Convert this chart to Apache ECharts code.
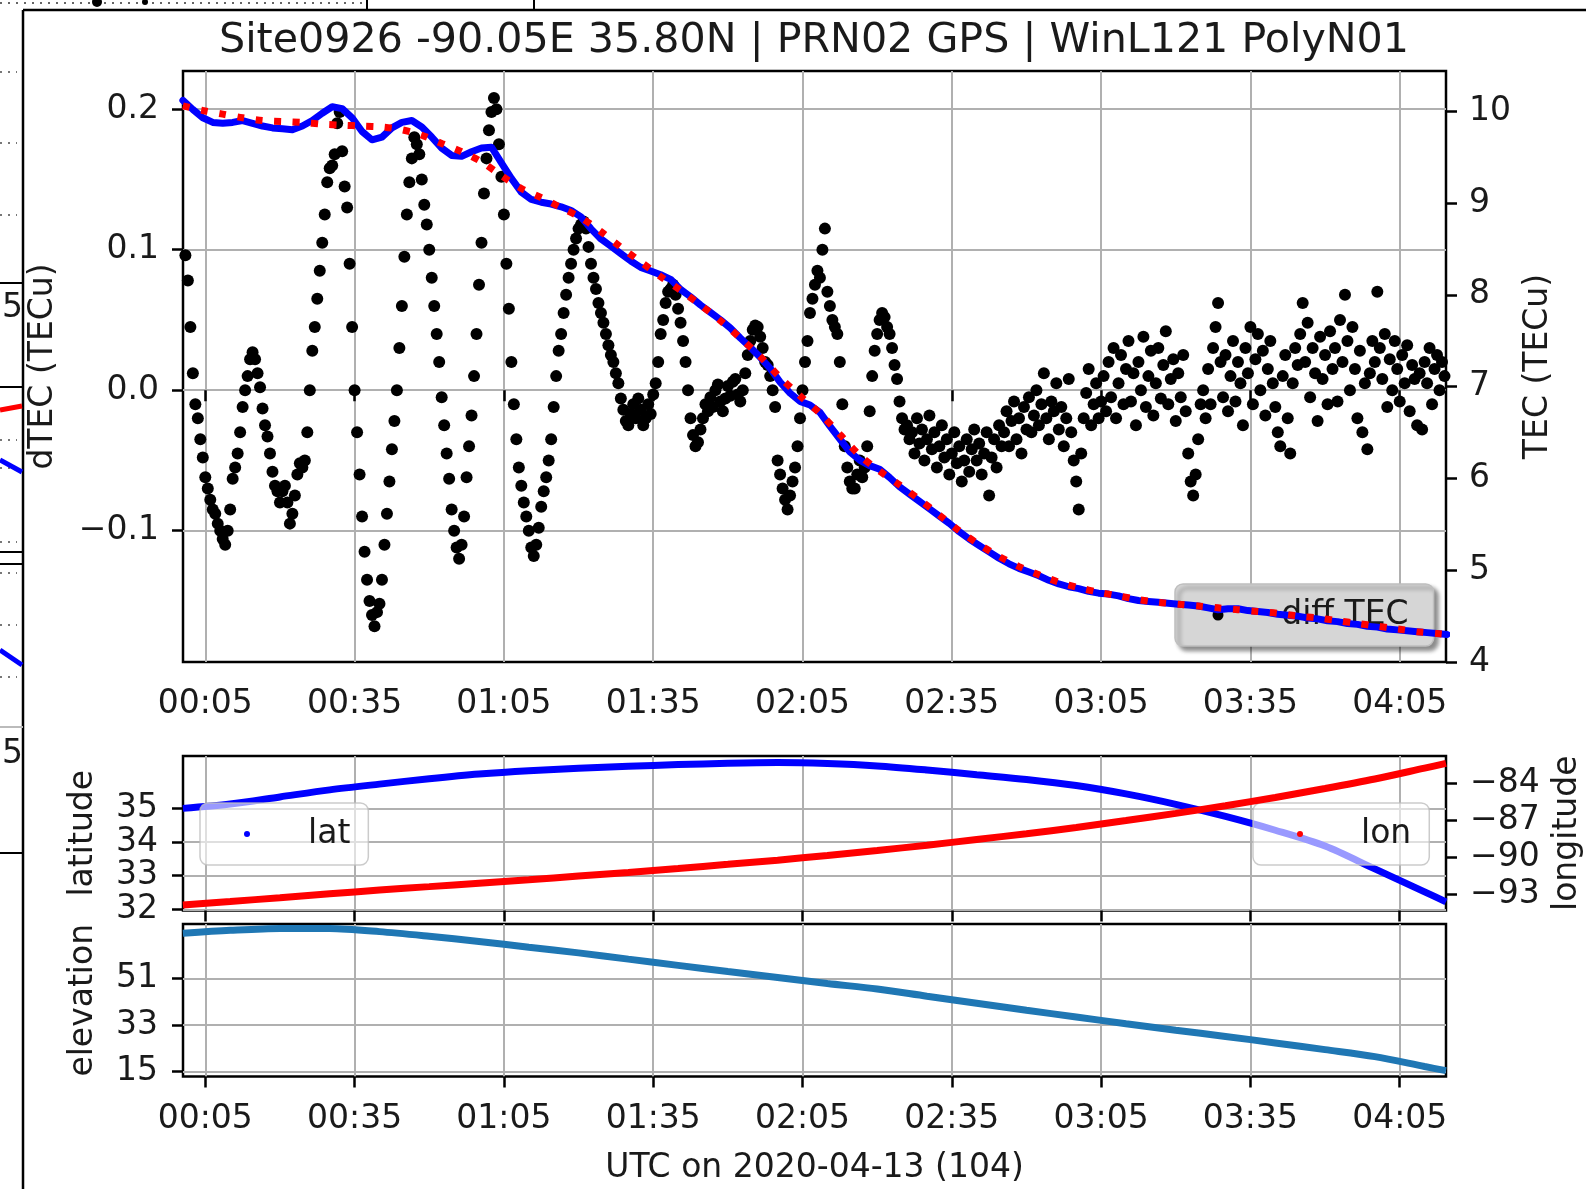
<!DOCTYPE html>
<html><head><meta charset="utf-8">
<script src="https://cdn.jsdelivr.net/npm/echarts@6/dist/echarts.min.js"></script>
<style>html,body{margin:0;padding:0;background:#fff;}#c{width:1586px;height:1189px;}</style>
</head><body><div id="c"></div>
<script>
// ---------------- DATA ----------------
const titleText = 'Site0926 -90.05E 35.80N | PRN02 GPS | WinL121 PolyN01';
const xTickMinutes = [5, 35, 65, 95, 125, 155, 185, 215, 245];
const dTecTicks = [-0.1, 0, 0.1, 0.2];
const tecTicks = [4, 5, 6, 7, 8, 9, 10];
const latTicks = [32, 33, 34, 35];
const lonTicks = [-93, -90, -87, -84];
const elevTicks = [15, 33, 51];

// dTEC, 30-s samples starting at minute 1.0
const dTecStart = 1.0, dTecStep = 0.5;
const dTecValues = [
 0.096, 0.078, 0.045, 0.012, -0.01, -0.02, -0.035, -0.048, -0.062, -0.07,
 -0.078, -0.085, -0.088, -0.095, -0.1, -0.106, -0.11, -0.1, -0.085, -0.063,
 -0.055, -0.045, -0.03, -0.012, 0.0, 0.01, 0.022, 0.027, 0.022, 0.012,
 0.002, -0.013, -0.025, -0.033, -0.045, -0.058, -0.068, -0.072, -0.08, -0.072,
 -0.068, -0.08, -0.095, -0.088, -0.075, -0.06, -0.052, -0.055, -0.05, -0.03,
 0.0, 0.028, 0.045, 0.065, 0.085, 0.105, 0.125, 0.148, 0.158, 0.16,
 0.168, 0.19, 0.198, 0.17, 0.145, 0.13, 0.09, 0.045, 0.0, -0.03,
 -0.06, -0.09, -0.115, -0.135, -0.15, -0.16, -0.168, -0.158, -0.152, -0.135,
 -0.11, -0.088, -0.065, -0.042, -0.022, 0.0, 0.03, 0.06, 0.095, 0.125,
 0.148, 0.165, 0.18, 0.175, 0.168, 0.15, 0.132, 0.118, 0.1, 0.08,
 0.06, 0.04, 0.02, -0.005, -0.025, -0.045, -0.063, -0.085, -0.1, -0.112,
 -0.12, -0.11, -0.09, -0.062, -0.04, -0.018, 0.01, 0.04, 0.075, 0.105,
 0.14, 0.165, 0.185, 0.198, 0.208, 0.2, 0.175, 0.152, 0.125, 0.09,
 0.058, 0.02, -0.01, -0.035, -0.055, -0.068, -0.08, -0.09, -0.1, -0.112,
 -0.118, -0.11, -0.098, -0.083, -0.072, -0.062, -0.05, -0.035, -0.012, 0.01,
 0.028, 0.04, 0.055, 0.068, 0.08, 0.09, 0.1, 0.108, 0.115, 0.118,
 0.12, 0.115, 0.102, 0.09, 0.08, 0.072, 0.062, 0.055, 0.048, 0.04,
 0.032, 0.025, 0.02, 0.012, 0.005, -0.006, -0.014, -0.022, -0.025, -0.017,
 -0.01, -0.02, -0.006, -0.014, -0.025, -0.02, -0.01, -0.017, -0.003, 0.005,
 0.02, 0.04, 0.05, 0.062, 0.07, 0.072, 0.075, 0.068, 0.058, 0.048,
 0.035, 0.02, 0.0, -0.02, -0.032, -0.04, -0.037, -0.028, -0.02, -0.01,
 -0.015, -0.005, -0.012, 0.0, 0.004, -0.008, -0.015, -0.006, 0.003, -0.004,
 0.006, 0.008, -0.003, -0.008, 0.0, 0.012, 0.025, 0.035, 0.043, 0.046,
 0.045, 0.038, 0.03, 0.02, 0.018, 0.01, 0.0, -0.012, -0.05, -0.06,
 -0.07, -0.078, -0.085, -0.075, -0.065, -0.055, -0.04, -0.02, 0.0, 0.02,
 0.035, 0.055, 0.065, 0.075, 0.085, 0.08, 0.1, 0.115, 0.07, 0.06,
 0.05, 0.045, 0.04, 0.02, -0.01, -0.04, -0.055, -0.065, -0.07, -0.07,
 -0.06, -0.05, -0.062, -0.055, -0.04, -0.015, 0.01, 0.028, 0.04, 0.05,
 0.055, 0.052, 0.045, 0.04, 0.03, 0.018, 0.008, -0.008, -0.02, -0.028,
 -0.025, -0.035,
 -0.03, -0.045, -0.02, -0.038, -0.028, -0.05, -0.035, -0.018, -0.042, -0.03,
 -0.055, -0.04, -0.025, -0.048, -0.035, -0.06, -0.045, -0.03, -0.052, -0.04,
 -0.065, -0.05, -0.035, -0.058, -0.042, -0.028, -0.05, -0.038, -0.06, -0.045,
 -0.03, -0.075, -0.048, -0.035, -0.055, -0.025, -0.04,
 -0.03, -0.015, -0.04, -0.022, -0.008, -0.035, -0.02, -0.045, -0.012, -0.028,
 -0.005, -0.03, -0.018, 0.0, -0.025, -0.01, 0.012, -0.02, -0.035, -0.008,
 -0.015, 0.005, -0.028, -0.012, -0.04, -0.02, 0.008, -0.03, -0.05, -0.065,
 -0.085, -0.045, -0.02, -0.002, 0.015, -0.025, -0.01, 0.005, -0.02, -0.008,
 0.01, -0.015, 0.02, -0.005, 0.03, -0.02, 0.005, 0.025, -0.01, 0.015,
 0.035, -0.008, 0.012, -0.025, 0.02, 0.0, 0.038, -0.012, 0.01, 0.028,
 -0.018, 0.005, 0.03, -0.006, 0.018, 0.042, -0.01, 0.008, 0.022, -0.022,
 0.012, -0.005, 0.025, -0.015,
 -0.045, -0.065, -0.075, -0.06, -0.035, -0.01,
 0.0, -0.02, 0.015, -0.01, 0.03, 0.045, 0.062, 0.02, -0.005, 0.025,
 -0.015, 0.01, 0.035, -0.008, 0.02, 0.005, -0.025, 0.03, 0.012, 0.045,
 -0.01, 0.022, 0.04, 0.0, 0.028, -0.018, 0.015, 0.035, 0.005, -0.012,
 -0.03, -0.04, 0.01, 0.025, -0.02, -0.045, 0.005, 0.03, 0.018, 0.04,
 0.062, 0.02, 0.048, -0.005, 0.03, 0.012, -0.022, 0.038, 0.008, 0.025,
 -0.01, 0.042, 0.015, 0.03, -0.008, 0.05, 0.02, 0.068, 0.035, 0.0,
 0.045, 0.015, -0.02, 0.028, -0.03, 0.005, -0.042, 0.012, 0.035, 0.02,
 0.07, 0.03, 0.008, 0.04, -0.012, 0.022, 0.0, 0.035, 0.015, -0.008,
 0.025, 0.005, 0.032, -0.015, 0.018, 0.008, -0.025, 0.012, -0.028, 0.02,
 0.005, 0.03, -0.01, 0.015, 0.025, 0.0, 0.02, 0.01
];

// TEC (blue), every 2 min starting at minute 0.5
const tecStart = 0.5, tecStep = 2;
const tecValues = [
 10.12, 10.02, 9.93, 9.88, 9.87, 9.88, 9.9, 9.87, 9.84, 9.82,
 9.81, 9.8, 9.84, 9.9, 9.98, 10.05, 10.03, 9.93, 9.78, 9.69,
 9.72, 9.82, 9.88, 9.9, 9.83, 9.72, 9.6, 9.52, 9.51, 9.56,
 9.6, 9.61, 9.44, 9.27, 9.12, 9.04, 9.01, 8.99, 8.96, 8.92,
 8.85, 8.72, 8.61, 8.53, 8.45, 8.37, 8.3, 8.26, 8.22, 8.17,
 8.06, 7.98, 7.89, 7.81, 7.73, 7.64, 7.53, 7.43, 7.32, 7.2,
 7.05, 6.93, 6.84, 6.8, 6.72, 6.57, 6.43, 6.29, 6.2, 6.14,
 6.1, 6.01, 5.91, 5.83, 5.75, 5.67, 5.59, 5.51, 5.42, 5.34,
 5.27, 5.2, 5.13, 5.07, 5.02, 4.98, 4.94, 4.89, 4.85, 4.82,
 4.8, 4.77, 4.75, 4.74, 4.72, 4.69, 4.67, 4.66, 4.65, 4.64,
 4.63, 4.62, 4.61, 4.59, 4.57, 4.58, 4.58, 4.56, 4.55, 4.54,
 4.52, 4.51, 4.5, 4.48, 4.47, 4.45, 4.44, 4.42, 4.41, 4.39,
 4.38, 4.36, 4.35, 4.34, 4.33, 4.32, 4.31, 4.30
];

// Polynomial fit (red dotted), every 4 min starting at minute 0.5
const fitStart = 0.5, fitStep = 4;
const fitValues = [
 10.06, 10.01, 9.97, 9.93, 9.9, 9.89, 9.88, 9.86, 9.85, 9.84,
 9.83, 9.8, 9.74, 9.65, 9.56, 9.45, 9.3, 9.16, 9.06, 8.95,
 8.84, 8.69, 8.52, 8.36, 8.2, 8.05, 7.89, 7.72, 7.53, 7.33,
 7.1, 6.9, 6.71, 6.48, 6.25, 6.08, 5.93, 5.77, 5.6, 5.43,
 5.28, 5.15, 5.04, 4.95, 4.87, 4.81, 4.76, 4.72, 4.68, 4.65,
 4.63, 4.61, 4.59, 4.57, 4.55, 4.53, 4.5, 4.48, 4.45, 4.42,
 4.39, 4.36, 4.33, 4.31, 4.29
];

// Satellite geometry
const geoTimes = [0.5, 10, 20, 30, 40, 50, 60, 70, 80, 90, 100, 110, 120, 130, 140, 150, 160, 170, 180, 190, 200, 210, 220, 230, 240, 250, 254.3];
const latValues = [35.0, 35.13, 35.34, 35.55, 35.72, 35.88, 36.02, 36.12, 36.19, 36.25, 36.3, 36.34, 36.36, 36.33, 36.26, 36.14, 36.0, 35.86, 35.68, 35.43, 35.12, 34.76, 34.35, 33.88, 33.2, 32.52, 32.22];
const lonValues = [-93.86, -93.58, -93.28, -92.96, -92.66, -92.38, -92.1, -91.83, -91.53, -91.23, -90.91, -90.58, -90.24, -89.86, -89.46, -89.03, -88.57, -88.1, -87.6, -87.04, -86.46, -85.84, -85.17, -84.45, -83.68, -82.8, -82.42];
const elevValues = [68.35, 69.5, 70.25, 70.2, 69.0, 67.2, 65.2, 63.0, 60.8, 58.4, 56.0, 53.6, 51.3, 49.0, 46.9, 44.1, 41.4, 38.7, 36.1, 33.5, 31.0, 28.6, 26.1, 23.5, 20.8, 17.0, 15.4];

// ---------------- BUILD ----------------
const FONT = "'DejaVu Sans'";
const TXT = '#1a1a1a';
const X_MIN = 0.52, X_MAX = 254.3;

const dTecData = dTecValues.map((v, i) => [dTecStart + i * dTecStep, v]);
const tecData = tecValues.map((v, i) => [tecStart + i * tecStep, v]);
const fitData = fitValues.map((v, i) => [fitStart + i * fitStep, v]);
const latData = geoTimes.map((t, i) => [t, latValues[i]]);
const lonData = geoTimes.map((t, i) => [t, lonValues[i]]);
const elevData = geoTimes.map((t, i) => [t, elevValues[i]]);

function hhmm(m) {
  const h = Math.floor(m / 60), mm = Math.round(m - h * 60);
  return String(h).padStart(2, '0') + ':' + String(mm).padStart(2, '0');
}
function minusFmt(d) {
  return v => (v < 0 ? '\u2212' : '') + Math.abs(v).toFixed(d);
}

const tickStyle = { show: true, inside: false, length: 11, lineStyle: { color: '#000', width: 2.5 } };
const gridLine = { show: true, lineStyle: { color: '#b0b0b0', width: 2 } };
const labelBase = { fontSize: 33, fontFamily: FONT, color: TXT };
const nameStyle = { fontSize: 33, fontFamily: FONT, color: TXT };

function xAxis(gridIndex, showLabels, extra) {
  return Object.assign({
    type: 'value', gridIndex, min: X_MIN, max: X_MAX,
    axisLine: { show: false },
    axisTick: Object.assign({}, tickStyle, { customValues: xTickMinutes }),
    axisLabel: Object.assign({}, labelBase, { show: showLabels, customValues: xTickMinutes, formatter: hhmm, margin: 26 }),
    splitLine: gridLine
  }, extra || {});
}
function yAxis(gridIndex, position, min, max, ticks, fmt, split, name, nameGap, margin) {
  return {
    type: 'value', gridIndex, position, min, max,
    axisLine: { show: false },
    axisTick: Object.assign({}, tickStyle, { customValues: ticks }),
    axisLabel: Object.assign({}, labelBase, { customValues: ticks, formatter: fmt, margin }),
    splitLine: split ? gridLine : { show: false },
    name, nameLocation: 'middle', nameGap, nameRotate: 90, nameTextStyle: nameStyle
  };
}

const legendText = { fontSize: 33, fontFamily: FONT, color: TXT, lineHeight: 38 };
const gridBase = { left: 183, right: 140, show: true, borderColor: '#000', borderWidth: 2.5, backgroundColor: 'transparent', containLabel: false, outerBoundsMode: 'none' };

const option = {
  animation: false,
  backgroundColor: '#fff',
  title: {
    text: titleText, left: 814, top: 21, textAlign: 'center', padding: 0,
    textStyle: { fontSize: 41.2, fontWeight: 'normal', fontFamily: FONT, color: TXT }
  },
  grid: [
    Object.assign({ top: 71, height: 591 }, gridBase),
    Object.assign({ top: 756, height: 154.5 }, gridBase),
    Object.assign({ top: 924, height: 152.5 }, gridBase)
  ],
  xAxis: [
    xAxis(0, true),
    xAxis(1, false),
    xAxis(2, true, { name: 'UTC on 2020-04-13 (104)', nameLocation: 'middle', nameGap: 75, nameTextStyle: nameStyle })
  ],
  yAxis: [
    yAxis(0, 'left', -0.1935, 0.2272, dTecTicks, minusFmt(1), true, 'dTEC (TECu)', 123, 24),
    yAxis(0, 'right', 4, 10.44, tecTicks, v => String(v), false, 'TEC (TECu)', 75, 23),
    yAxis(1, 'left', 31.965, 36.556, latTicks, v => String(v), true, 'latitude', 83, 25),
    yAxis(1, 'right', -94.31, -81.82, lonTicks, minusFmt(0), false, 'longitude', 105, 24),
    yAxis(2, 'left', 13.15, 71.94, elevTicks, v => String(v), true, 'elevation', 83, 25)
  ],
  legend: [
    {
      data: ['diff TEC'], left: 1175, top: 584, orient: 'horizontal', selectedMode: false,
      padding: [12, 25, 12, 37.5], itemWidth: 116.5, itemHeight: 11, icon: 'circle',
      textStyle: legendText,
      backgroundColor: '#d6d6d6', borderColor: '#bfbfbf', borderWidth: 1.5, borderRadius: 8,
      shadowColor: 'rgba(0,0,0,0.45)', shadowBlur: 4, shadowOffsetX: 4, shadowOffsetY: 4, z: 3
    },
    {
      data: ['lat'], left: 200, top: 803, orient: 'horizontal', selectedMode: false,
      padding: [12, 18, 12, 44], itemWidth: 112, itemHeight: 6, icon: 'circle',
      textStyle: legendText,
      backgroundColor: 'rgba(255,255,255,0.6)', borderColor: 'rgba(190,190,190,0.8)', borderWidth: 1.5, borderRadius: 8, z: 3
    },
    {
      data: ['lon'], left: 1253, top: 803, orient: 'horizontal', selectedMode: false,
      padding: [12, 18, 12, 44], itemWidth: 112, itemHeight: 6, icon: 'circle',
      textStyle: legendText,
      backgroundColor: 'rgba(255,255,255,0.6)', borderColor: 'rgba(190,190,190,0.8)', borderWidth: 1.5, borderRadius: 8, z: 3
    }
  ],
  series: [
    {
      name: 'diff TEC', type: 'scatter', xAxisIndex: 0, yAxisIndex: 0, data: dTecData,
      symbol: 'circle', symbolSize: 12, itemStyle: { color: '#000', opacity: 1 }, z: 2
    },
    {
      name: 'TEC', type: 'line', xAxisIndex: 0, yAxisIndex: 1, data: tecData,
      showSymbol: false, symbol: 'none', color: '#0000ff',
      lineStyle: { color: '#0000ff', width: 7, cap: 'round', join: 'round' }, z: 5
    },
    {
      name: 'fit', type: 'line', xAxisIndex: 0, yAxisIndex: 1, data: fitData, smooth: 0.3,
      showSymbol: false, symbol: 'none', color: '#ff0000',
      lineStyle: { color: '#ff0000', width: 7, type: [7, 11.5], cap: 'butt' }, z: 6
    },
    {
      name: 'lat', type: 'line', xAxisIndex: 1, yAxisIndex: 2, data: latData, smooth: 0.3,
      showSymbol: false, symbol: 'none', color: '#0000ff', itemStyle: { color: '#0000ff' },
      lineStyle: { color: '#0000ff', width: 7 }, z: 2
    },
    {
      name: 'lon', type: 'line', xAxisIndex: 1, yAxisIndex: 3, data: lonData, smooth: 0.3,
      showSymbol: false, symbol: 'none', color: '#ff0000', itemStyle: { color: '#ff0000' },
      lineStyle: { color: '#ff0000', width: 7 }, z: 4
    },
    {
      name: 'elevation', type: 'line', xAxisIndex: 2, yAxisIndex: 4, data: elevData, smooth: 0.3,
      showSymbol: false, symbol: 'none', color: '#1f77b4',
      lineStyle: { color: '#1f77b4', width: 7 }, z: 2
    }
  ],
  graphic: [
    // figure frame fragments
    { type: 'line', shape: { x1: 23, y1: 10, x2: 1586, y2: 10 }, style: { stroke: '#000', lineWidth: 2.5 } },
    { type: 'line', shape: { x1: 23, y1: 10, x2: 23, y2: 1189 }, style: { stroke: '#000', lineWidth: 2.5 } },
    // neighbouring-figure fragments (top strip)
    { type: 'line', shape: { x1: 0, y1: 3, x2: 364, y2: 3 }, style: { stroke: '#666', lineWidth: 2, lineDash: [2, 6] } },
    { type: 'circle', shape: { cx: 97, cy: 2, r: 5 }, style: { fill: '#000' } },
    { type: 'circle', shape: { cx: 145, cy: 2, r: 3 }, style: { fill: '#000' } },
    { type: 'line', shape: { x1: 367, y1: 0, x2: 367, y2: 10 }, style: { stroke: '#000', lineWidth: 2 } },
    { type: 'line', shape: { x1: 534, y1: 0, x2: 534, y2: 10 }, style: { stroke: '#000', lineWidth: 2 } },
    // left strip
    ...[72, 143, 215, 440, 468, 542, 573, 625, 677].map(y => ({ type: 'line', shape: { x1: 0, y1: y, x2: 17, y2: y }, style: { stroke: '#777', lineWidth: 2, lineDash: [2, 6] } })),
    ...[283, 387, 552, 564, 853].map(y => ({ type: 'line', shape: { x1: 0, y1: y, x2: 23, y2: y }, style: { stroke: '#000', lineWidth: 2 } })),
    { type: 'line', shape: { x1: 0, y1: 727, x2: 23, y2: 727 }, style: { stroke: '#bbb', lineWidth: 2 } },
    { type: 'line', shape: { x1: 0, y1: 410, x2: 22, y2: 406 }, style: { stroke: '#ff0000', lineWidth: 5 } },
    { type: 'line', shape: { x1: 0, y1: 460, x2: 22, y2: 472 }, style: { stroke: '#0000ff', lineWidth: 5 } },
    { type: 'line', shape: { x1: 0, y1: 650, x2: 22, y2: 665 }, style: { stroke: '#0000ff', lineWidth: 5 } },
    { type: 'text', x: 2, y: 308, style: { text: '5', fontSize: 33, fontFamily: FONT, fill: TXT, verticalAlign: 'middle' } },
    { type: 'text', x: 2, y: 754, style: { text: '5', fontSize: 33, fontFamily: FONT, fill: TXT, verticalAlign: 'middle' } }
  ]
};

const chart = echarts.init(document.getElementById('c'), null, { renderer: 'canvas', width: 1586, height: 1189 });
chart.setOption(option);
</script>
</body></html>
